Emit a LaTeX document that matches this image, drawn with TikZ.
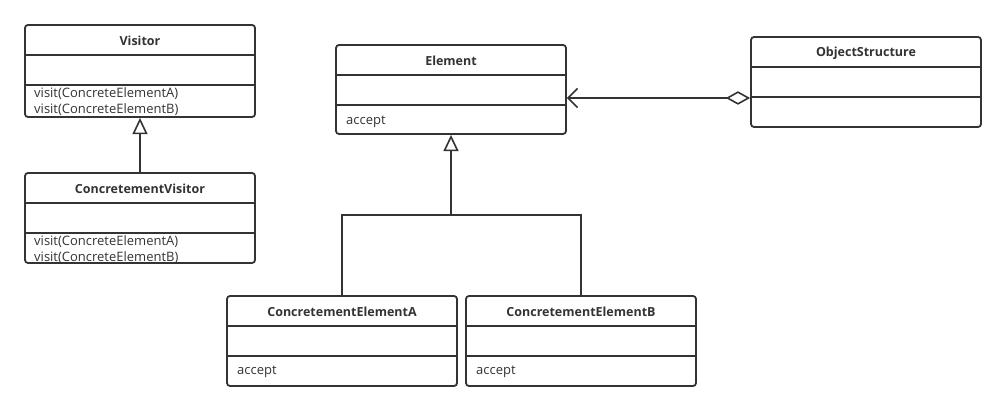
\documentclass[tikz,border=0pt]{standalone}
\usepackage{fontspec}
\setmainfont{Open Sans}
\usetikzlibrary{arrows.meta}
\definecolor{ink}{HTML}{333333}
\begin{document}
\begin{tikzpicture}[x=1pt,y=-1pt,
  line/.style={draw=ink, line width=1.8pt},
  cls/.style={line, rounded corners=3pt, minimum width=230pt, inner sep=0pt},
  ttl/.style={font=\fontsize{12.5}{14}\selectfont\bfseries, text=ink},
  op/.style={font=\fontsize{13}{16}\selectfont, text=ink, anchor=west, align=left, inner sep=0pt},
  gen/.style={line, -{Triangle[open, length=13pt, width=12pt, line width=1.6pt, scale=1.25]}},
  agg/.style={line, {Straight Barb[length=8pt, width=16pt, line width=1.6pt, scale=1.2]}-{Diamond[open, length=18pt, width=10pt, line width=1.6pt, scale=1.35]}}
]
\useasboundingbox (0,0) rectangle (1006,411);
\fill[white] (0,0) rectangle (1006,411);

% Visitor
\node[cls, minimum height=92pt] (visitor) at (140,71) {};
\draw[line] (25,55) -- (255,55);
\draw[line] (25,85) -- (255,85);
\node[ttl] (visitorT) at (140,41) {Visitor};
\node[op] (visitorO) at (34,101.5) {visit(ConcreteElementA)\\visit(ConcreteElementB)};

% ConcretementVisitor
\node[cls, minimum height=90pt] (cv) at (140,218) {};
\draw[line] (25,203) -- (255,203);
\draw[line] (25,233) -- (255,233);
\node[ttl] (cvT) at (140,189) {ConcretementVisitor};
\node[op] (cvO) at (34,249.5) {visit(ConcreteElementA)\\visit(ConcreteElementB)};

% Element
\node[cls, minimum height=89pt] (element) at (451,89.5) {};
\draw[line] (336,75) -- (566,75);
\draw[line] (336,105) -- (566,105);
\node[ttl] (elementT) at (451,61) {Element};
\node[op] (elementO) at (346,122) {accept};

% ObjectStructure
\node[cls, minimum height=90pt] (os) at (866,82) {};
\draw[line] (751,67) -- (981,67);
\draw[line] (751,97) -- (981,97);
\node[ttl] (osT) at (866,53) {ObjectStructure};

% ConcretementElementA
\node[cls, minimum height=90pt] (cea) at (342,341) {};
\draw[line] (227,326) -- (457,326);
\draw[line] (227,356) -- (457,356);
\node[ttl] (ceaT) at (342,312) {ConcretementElementA};
\node[op] (ceaO) at (237,372) {accept};

% ConcretementElementB
\node[cls, minimum height=90pt] (ceb) at (581,341) {};
\draw[line] (466,326) -- (696,326);
\draw[line] (466,356) -- (696,356);
\node[ttl] (cebT) at (581,312) {ConcretementElementB};
\node[op] (cebO) at (476,372) {accept};

% connectors
\draw[gen] (cv.north) -- (visitor.south);
\coordinate (j) at (451,215);
\draw[line] (cea.north) |- (j);
\draw[line] (ceb.north) |- (j);
\draw[gen] (j) -- (element.south);
\draw[agg] (element.east |- 0,98) -- (os.west |- 0,98);
\end{tikzpicture}
\end{document}
